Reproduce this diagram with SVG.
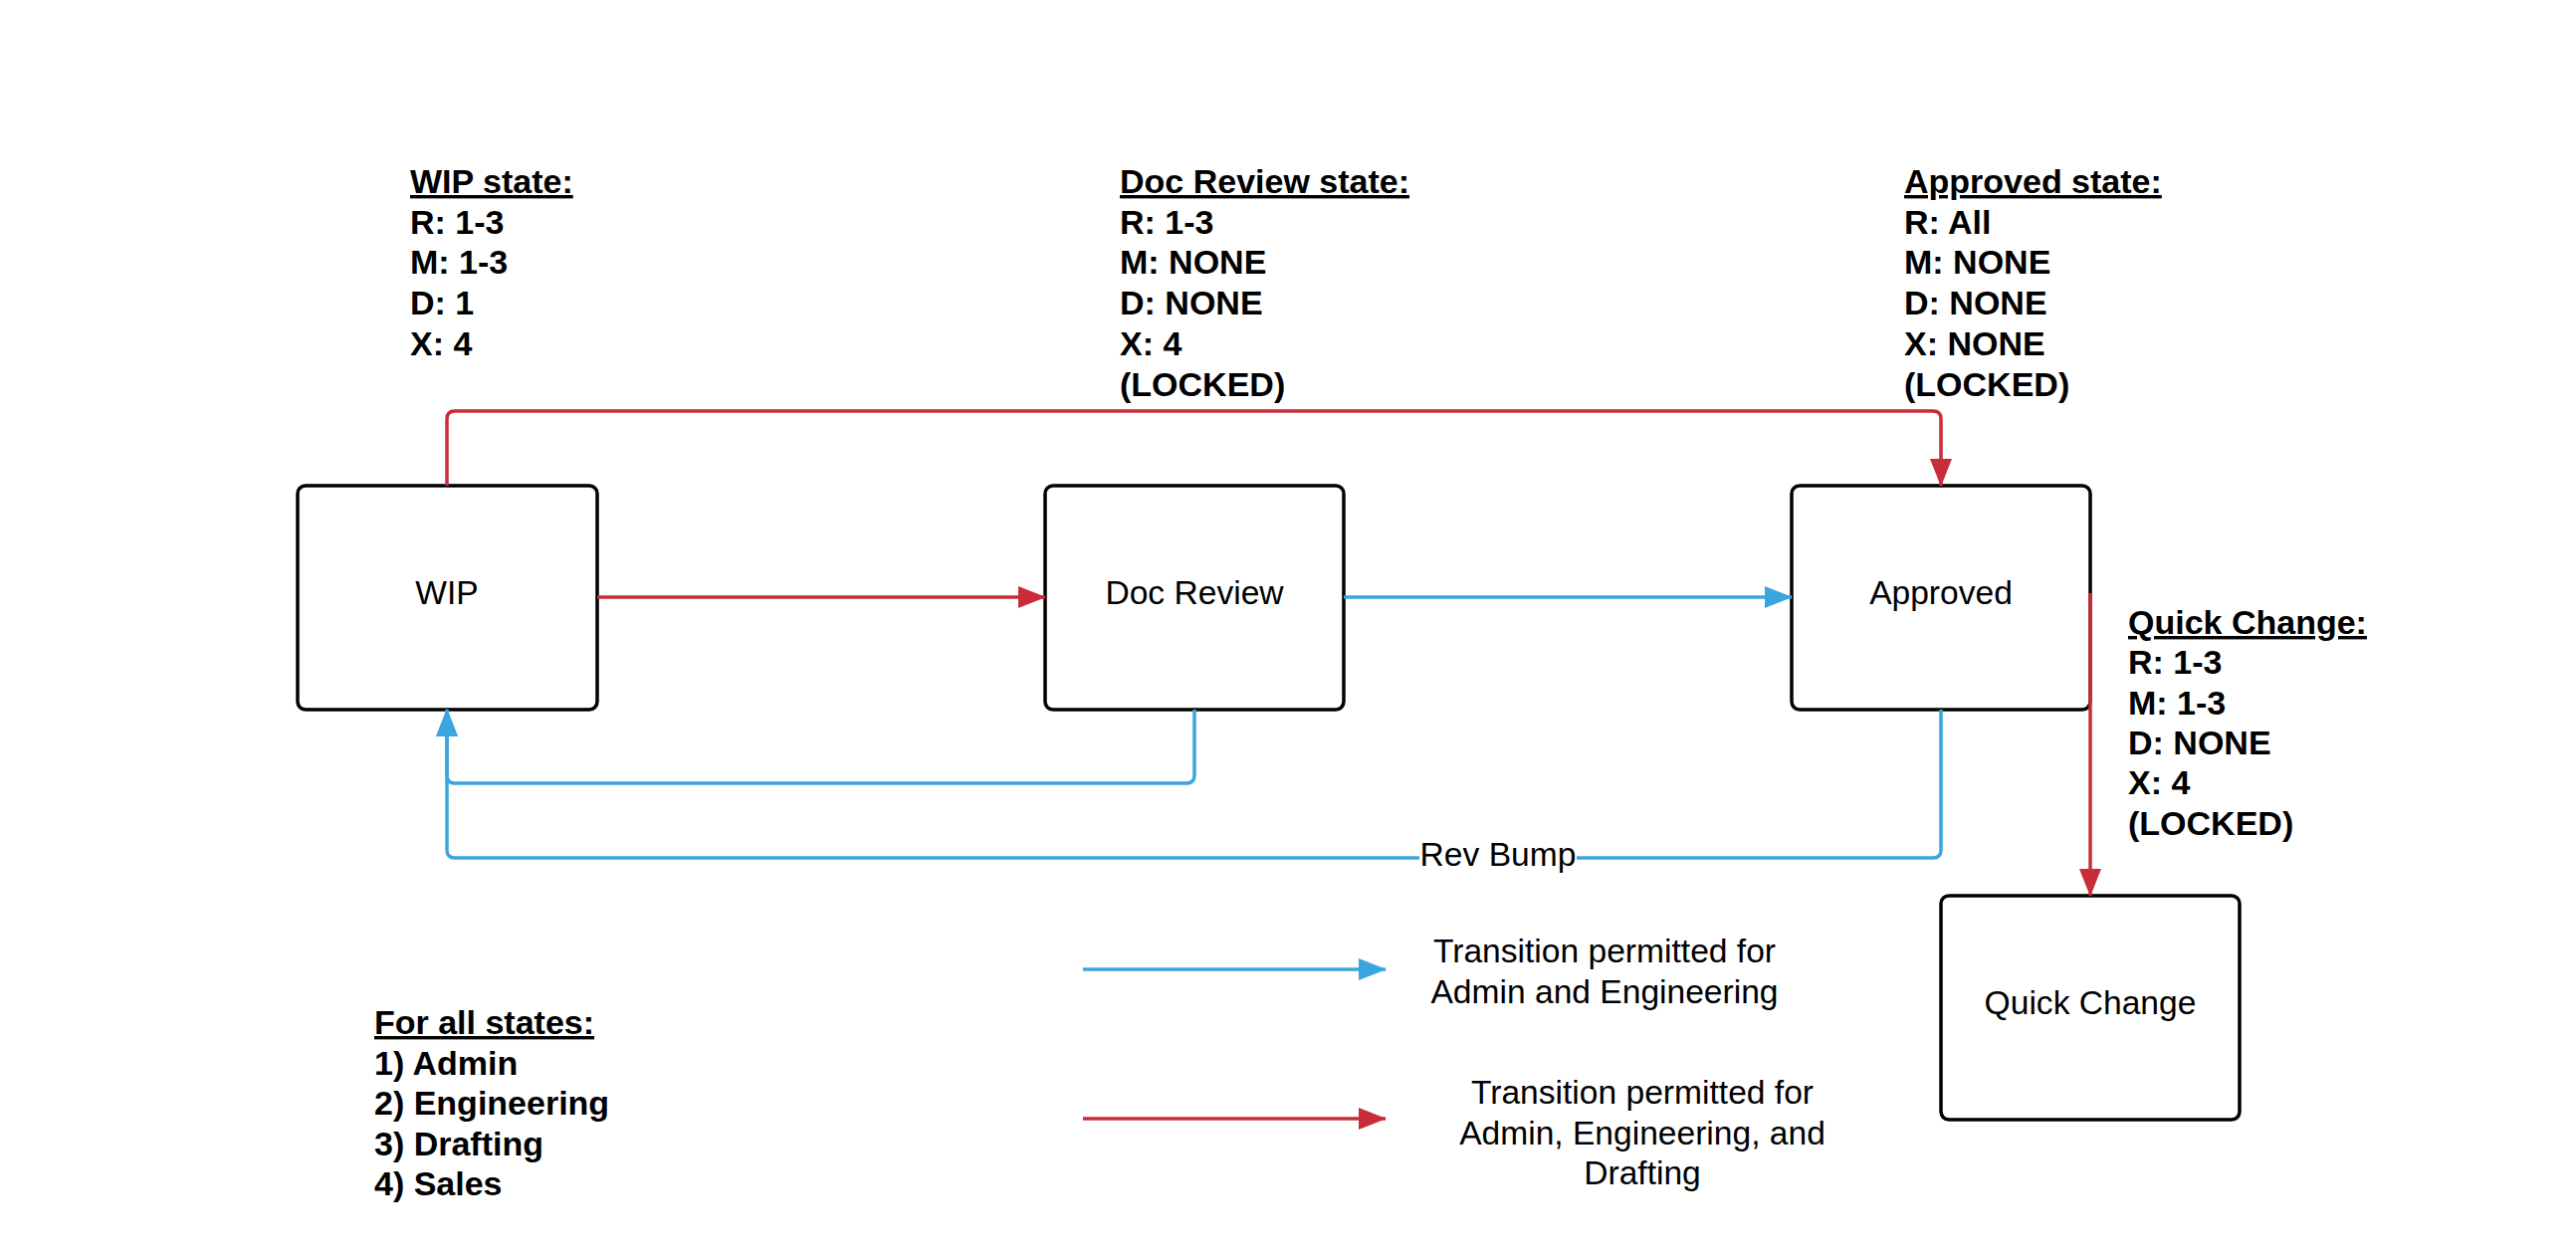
<svg xmlns="http://www.w3.org/2000/svg" width="2588" height="1259" viewBox="0 0 2588 1259">
<style>
  .box { fill: #ffffff; stroke: #000000; stroke-width: 3.5; }
  .lbl { font-family: "Liberation Sans", Arial, sans-serif; font-size: 33.6px; fill: #000; text-anchor: middle; }
  .info { font-family: "Liberation Sans", Arial, sans-serif; font-size: 34px; font-weight: bold; fill: #000; }
  .head { text-decoration: underline; }
  .red { fill: none; stroke: #c92d39; stroke-width: 3.5; }
  .blue { fill: none; stroke: #3aa6dd; stroke-width: 3.5; }
</style>
<defs>
  <marker id="arrRed" viewBox="0 0 28 22" refX="27" refY="11" markerWidth="28" markerHeight="22" orient="auto" markerUnits="userSpaceOnUse">
    <path d="M0,0 L28,11 L0,22 z" fill="#c92d39"/>
  </marker>
  <marker id="arrBlue" viewBox="0 0 28 22" refX="27" refY="11" markerWidth="28" markerHeight="22" orient="auto" markerUnits="userSpaceOnUse">
    <path d="M0,0 L28,11 L0,22 z" fill="#3aa6dd"/>
  </marker>
</defs>
<rect width="2588" height="1259" fill="#ffffff"/>

<g id="node-wip">
  <rect class="box" x="299" y="488" width="301" height="225" rx="8"/>
  <text class="lbl" x="449" y="607">WIP</text>
</g>
<g id="node-docreview">
  <rect class="box" x="1050" y="488" width="300" height="225" rx="8"/>
  <text class="lbl" x="1200" y="607">Doc Review</text>
</g>
<g id="node-approved">
  <rect class="box" x="1800" y="488" width="300" height="225" rx="8"/>
  <text class="lbl" x="1950" y="607">Approved</text>
</g>
<g id="node-quickchange">
  <rect class="box" x="1950" y="900" width="300" height="225" rx="8"/>
  <text class="lbl" x="2100" y="1019">Quick Change</text>
</g>

<g id="connectors">
  <path class="red" d="M449,488 V421 Q449,413 457,413 H1942 Q1950,413 1950,421 V488" marker-end="url(#arrRed)"/>
  <path class="red" d="M600,600 H1050" marker-end="url(#arrRed)"/>
  <path class="blue" d="M1350,600 H1800" marker-end="url(#arrBlue)"/>
  <path class="red" d="M2100,596 V900" marker-end="url(#arrRed)"/>
  <path class="blue" d="M1200,713 V779 Q1200,787 1192,787 H457 Q449,787 449,779 V713" marker-end="url(#arrBlue)"/>
  <path class="blue" d="M1950,713 V854 Q1950,862 1942,862 H457 Q449,862 449,854 V713" marker-end="url(#arrBlue)"/>
  <rect x="1426" y="840" width="158" height="40" fill="#ffffff"/>
  <text class="lbl" x="1505" y="870">Rev Bump</text>
</g>

<g id="info-wip">
  <text class="info" x="412" y="194"><tspan class="head">WIP state:</tspan><tspan x="412" dy="40.7">R: 1-3</tspan><tspan x="412" dy="40.7">M: 1-3</tspan><tspan x="412" dy="40.7">D: 1</tspan><tspan x="412" dy="40.7">X: 4</tspan></text>
</g>
<g id="info-docreview">
  <text class="info" x="1125" y="194"><tspan class="head">Doc Review state:</tspan><tspan x="1125" dy="40.7">R: 1-3</tspan><tspan x="1125" dy="40.7">M: NONE</tspan><tspan x="1125" dy="40.7">D: NONE</tspan><tspan x="1125" dy="40.7">X: 4</tspan><tspan x="1125" dy="40.7">(LOCKED)</tspan></text>
</g>
<g id="info-approved">
  <text class="info" x="1913" y="194"><tspan class="head">Approved state:</tspan><tspan x="1913" dy="40.7">R: All</tspan><tspan x="1913" dy="40.7">M: NONE</tspan><tspan x="1913" dy="40.7">D: NONE</tspan><tspan x="1913" dy="40.7">X: NONE</tspan><tspan x="1913" dy="40.7">(LOCKED)</tspan></text>
</g>
<g id="info-quickchange">
  <text class="info" x="2138" y="637"><tspan class="head">Quick Change:</tspan><tspan x="2138" dy="40.3">R: 1-3</tspan><tspan x="2138" dy="40.3">M: 1-3</tspan><tspan x="2138" dy="40.3">D: NONE</tspan><tspan x="2138" dy="40.3">X: 4</tspan><tspan x="2138" dy="40.3">(LOCKED)</tspan></text>
</g>
<g id="info-allstates">
  <text class="info" x="376" y="1039"><tspan class="head">For all states:</tspan><tspan x="376" dy="40.5">1) Admin</tspan><tspan x="376" dy="40.5">2) Engineering</tspan><tspan x="376" dy="40.5">3) Drafting</tspan><tspan x="376" dy="40.5">4) Sales</tspan></text>
</g>

<g id="legend">
  <path class="blue" d="M1088,974 H1392" marker-end="url(#arrBlue)"/>
  <text class="lbl" x="1612" y="967">Transition permitted for<tspan x="1612" dy="40.5">Admin and Engineering</tspan></text>
  <path class="red" d="M1088,1124 H1392" marker-end="url(#arrRed)"/>
  <text class="lbl" x="1650" y="1109">Transition permitted for<tspan x="1650" dy="40.5">Admin, Engineering, and</tspan><tspan x="1650" dy="40.5">Drafting</tspan></text>
</g>
</svg>
